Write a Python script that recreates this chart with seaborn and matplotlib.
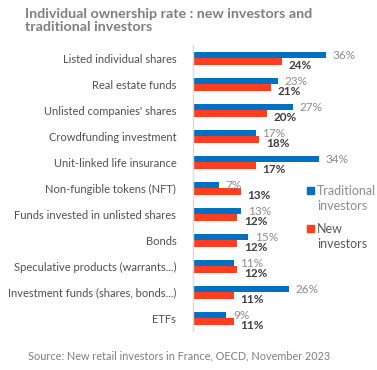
import pandas as pd
import numpy as np
import matplotlib.pyplot as plt
import seaborn as sns
from matplotlib.patches import Rectangle

categories = [
    "Listed individual shares",
    "Real estate funds",
    "Unlisted companies' shares",
    "Crowdfunding investment",
    "Unit-linked life insurance",
    "Non-fungible tokens (NFT)",
    "Funds invested in unlisted shares",
    "Bonds",
    "Speculative products (warrants...)",
    "Investment funds (shares, bonds...)",
    "ETFs",
]
traditional = [36, 23, 27, 17, 34, 7, 13, 15, 11, 26, 9]
new = [24, 21, 20, 18, 17, 13, 12, 12, 12, 11, 11]
series = ["Traditional\ninvestors", "New\ninvestors"]

BLUE = "#0070C0"
RED = "#FF3D1F"

sns.set_theme(style="white")
plt.rcParams["font.family"] = ["Lato", "DejaVu Sans"]

df = pd.DataFrame({
    "category": categories * 2,
    "value": traditional + new,
    "series": [series[0]] * len(categories) + [series[1]] * len(categories),
})

fig = plt.figure(figsize=(3.77, 3.70), dpi=100)
ax = fig.add_axes([0.512, 0.105, 0.47, 0.773])

sns.barplot(data=df, y="category", x="value", hue="series", order=categories,
            hue_order=series, palette=[BLUE, RED], width=0.5, gap=0, orient="h",
            ax=ax, saturation=1, linewidth=0, legend=False)

ax.set_xlim(0, 48)
ax.set_ylim(len(categories) - 0.5, -0.5)
ax.set_xlabel("")
ax.set_ylabel("")
ax.set_xticks([])
for s in ["top", "right", "bottom"]:
    ax.spines[s].set_visible(False)
ax.spines["left"].set_color("#d9d9d9")
ax.spines["left"].set_linewidth(1)
ax.tick_params(axis="y", length=0, pad=12, labelsize=8, labelcolor="#505050")

# value labels
for i, (t, n) in enumerate(zip(traditional, new)):
    ax.text(t + 1.8, i - 0.12, f"{t}%", va="center", ha="left",
            fontsize=8.5, color="#8c8c8c")
    ax.text(n + 1.8, i + 0.27, f"{n}%", va="center", ha="left",
            fontsize=8.5, color="#404040", fontweight="bold")

# legend, square next to the first line of each label
leg_colors = [BLUE, RED]
leg_text_colors = ["#8c8c8c", "#595959"]
for k, (lab, c, tc) in enumerate(zip(series, leg_colors, leg_text_colors)):
    y = 0.487 - k * 0.103
    fig.patches.append(Rectangle((0.814, y - 0.011), 0.019, 0.0195,
                                 transform=fig.transFigure, color=c))
    fig.text(0.841, y + 0.012, lab, ha="left", va="top", fontsize=9,
             color=tc, linespacing=1.25)

fig.text(0.066, 0.978, "Individual ownership rate : new investors and\ntraditional investors",
         ha="left", va="top", fontsize=10.3, fontweight="bold", color="#7f7f7f",
         linespacing=1.1)
fig.text(0.074, 0.038, "Source: New retail investors in France, OECD, November 2023",
         ha="left", va="center", fontsize=7.8, color="#7f7f7f")

fig.savefig("out.png", dpi=100)
